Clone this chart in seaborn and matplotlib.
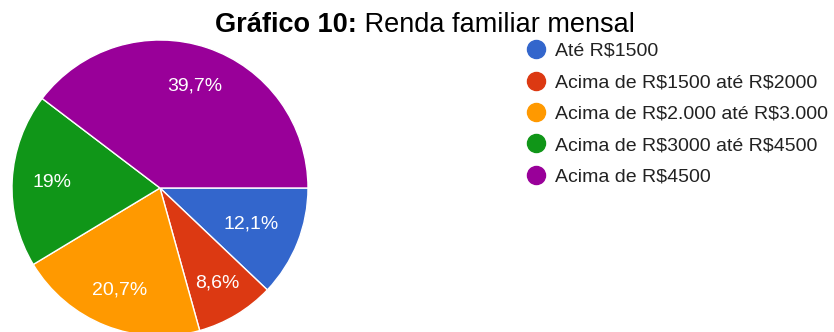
import matplotlib
matplotlib.use("Agg")
import numpy as np
import matplotlib.pyplot as plt
import seaborn as sns
from matplotlib.lines import Line2D

categories = ["Até R$1500", "Acima de R$1500 até R$2000", "Acima de R$2.000 até R$3.000",
              "Acima de R$3000 até R$4500", "Acima de R$4500"]
values = [12.1, 8.6, 20.7, 19.0, 39.7]
pct_labels = ["12,1%", "8,6%", "20,7%", "19%", "39,7%"]
colors = ["#3366cc", "#dc3912", "#ff9900", "#109618", "#990099"]
title_bold = "Gráfico 10:"
title_rest = " Renda familiar mensal"

sns.set_theme(style="white")
plt.rcParams["font.family"] = ["Liberation Sans", "DejaVu Sans"]
plt.rcParams["text.parse_math"] = False

W, H = 834, 332
fig = plt.figure(figsize=(W / 100, H / 100), dpi=100)
fig.patch.set_facecolor("white")

cx, cy, r = 160, 188, 148
ax = fig.add_axes([(cx - r) / W, (H - cy - r) / H, 2 * r / W, 2 * r / H])
palette = sns.color_palette(colors)
wedges, texts = ax.pie(values, colors=palette, startangle=0, counterclock=False,
                       radius=1, labels=pct_labels, labeldistance=0.74,
                       wedgeprops=dict(edgecolor="white", linewidth=1.0),
                       textprops=dict(color="white", fontsize=14))
label_dist = [0.66, 0.75, 0.74, 0.73, 0.73]
for w, t, d in zip(wedges, texts, label_dist):
    th = np.deg2rad((w.theta1 + w.theta2) / 2)
    t.set_position((d * np.cos(th), d * np.sin(th)))
    t.set_ha("center"); t.set_va("center")
ax.set_xlim(-1, 1); ax.set_ylim(-1, 1)
ax.set_aspect("equal")
ax.axis("off")

handles = [Line2D([0], [0], marker="o", linestyle="none", markersize=13,
                  markerfacecolor=c, markeredgecolor=c) for c in palette]
leg = fig.legend(handles, categories, loc="upper left",
                 bbox_to_anchor=(526 / W, 1 - 42.3 / H), frameon=False,
                 fontsize=14, handlelength=1.0, handletextpad=0.5,
                 labelspacing=0.71, borderpad=0, borderaxespad=0)
for t in leg.get_texts():
    t.set_color("#222222")

tb = fig.text(215 / W, 1 - 31.5 / H, title_bold, fontsize=19.5, fontweight="bold",
              va="baseline", ha="left", color="black")
fig.canvas.draw()
bb = tb.get_window_extent(fig.canvas.get_renderer())
fig.text(bb.x1 / W, 1 - 31.5 / H, title_rest, fontsize=19.5, va="baseline",
         ha="left", color="black")

fig.savefig("out.png", dpi=100, facecolor="white")
